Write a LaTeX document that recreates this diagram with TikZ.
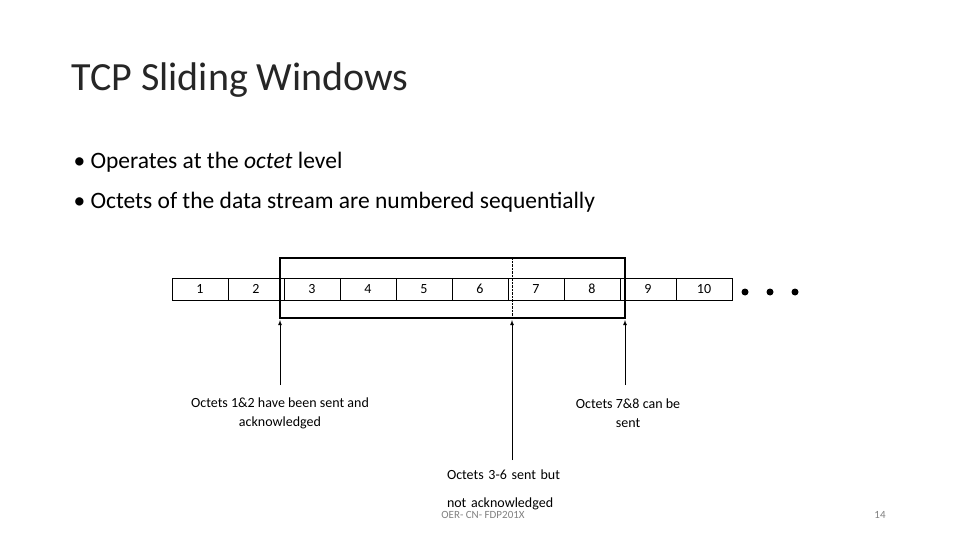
\documentclass[tikz,border=0pt]{standalone}
\usepackage{fontspec}
\setmainfont{Carlito}
\usetikzlibrary{positioning}
\tikzset{
  cell/.style={draw, thin, minimum width=56pt, minimum height=22pt, inner sep=0pt, font=\fontsize{14}{16}\selectfont},
  label/.style={align=center, font=\fontsize{14}{19}\selectfont},
  bullet/.style={anchor=west, font=\fontsize{23.5}{28}\selectfont},
}
\begin{document}
\begin{tikzpicture}[x=1pt,y=-1pt]
\useasboundingbox (0,0) rectangle (960,540);
\node[anchor=west, font=\fontsize{40}{44}\selectfont, text=black!85] (title) at (68,80) {TCP Sliding Windows};
\node[bullet] (b1) at (70,162) {\textbullet\ Operates at the \textit{octet} level};
\node[bullet] (b2) at (70,202) {\textbullet\ Octets of the data stream are numbered sequentially};
% row of octets
\foreach \i in {1,...,10}
  \node[cell] (c\i) at ({172+28+56*(\i-1)},289) {\i};
\foreach \d in {745,770,795}
  \fill (\d,292) circle (3.5);
% window
\draw[line width=2.2pt] (280,258) rectangle (625,318);
\draw[densely dotted] (512,258) -- (512,318);
% pointers
\coordinate (p1) at (280,320);
\coordinate (p2) at (512,320);
\coordinate (p3) at (625,320);
\node[label] (l1) at (280,413) {Octets 1\&2 have been sent and\\acknowledged};
\node[label] (l3) at (628,413) {Octets 7\&8 can be\\sent};
\node[label, text width=150pt, align=left, font=\fontsize{14}{28}\selectfont] (l2) at (522,490) {Octets 3-6 sent but\\not acknowledged};
\draw[-latex, thick] (280,385) -- (p1);
\draw[-latex, thick] (512,460) -- (p2);
\draw[-latex, thick] (625,385) -- (p3);
% footer
\node[font=\fontsize{11}{12}\selectfont, text=gray] (f1) at (483,515) {OER- CN- FDP201X};
\node[font=\fontsize{11}{12}\selectfont, text=gray] (f2) at (880,515) {14};
\end{tikzpicture}
\end{document}
